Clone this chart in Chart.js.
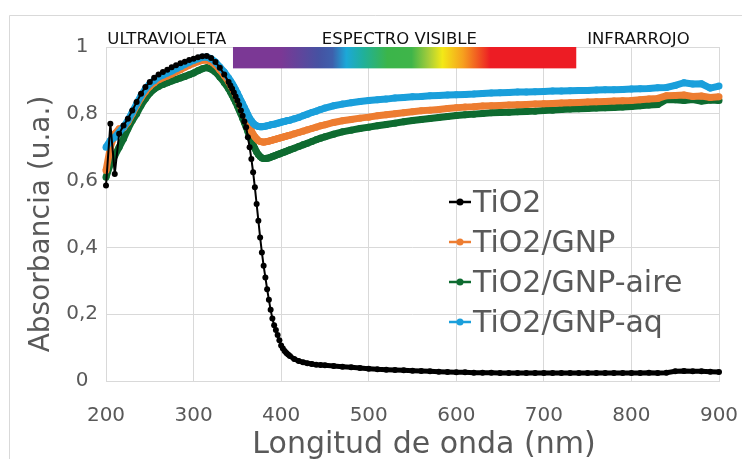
<!DOCTYPE html>
<html>
<head>
<meta charset="utf-8">
<title>Absorbancia</title>
<script src="https://cdn.jsdelivr.net/npm/chart.js@4.4.1/dist/chart.umd.min.js"></script>
<style>
  html, body { margin: 0; padding: 0; background: #fff; }
  #wrap { position: relative; width: 742px; height: 459px; }
</style>
</head>
<body>
<div id="wrap"><canvas id="absChart" width="742" height="459"></canvas></div>
<script>
// wavelengths (nm) shared by all series
const wavelengths = [
  200, 205, 210, 215, 220, 225, 230, 235, 240, 245, 250, 255, 260, 265, 270, 275, 280, 285, 290, 295,
  300, 305, 310, 315, 320, 325, 330, 335,
  340, 342, 344, 346, 348, 350, 352, 354, 356, 358, 360, 362, 364, 366, 368, 370, 372, 374, 376, 378,
  380, 382, 384, 386, 388, 390, 392, 394, 396, 398, 400, 402, 404, 406, 408, 410,
  415, 420, 425, 430, 435, 440, 445, 450,
  460, 470, 480, 490, 500, 510, 520, 530, 540, 550, 560, 570, 580, 590, 600, 610, 620, 630, 640, 650,
  660, 670, 680, 690, 700, 710, 720, 730, 740, 750, 760, 770, 780, 790, 800, 810, 820, 830, 840, 850,
  860, 870, 880, 890, 900
];

const tio2 = [
  0.585, 0.77, 0.62, 0.74, 0.765, 0.785, 0.81, 0.835, 0.86, 0.88, 0.895, 0.908, 0.918, 0.925, 0.932, 0.939, 0.945, 0.951, 0.956, 0.961,
  0.965, 0.969, 0.972, 0.973, 0.967, 0.955, 0.938, 0.918,
  0.895, 0.885, 0.875, 0.864, 0.852, 0.84, 0.826, 0.81, 0.794, 0.777, 0.76, 0.73, 0.70, 0.665, 0.625, 0.58, 0.53, 0.48, 0.43, 0.385,
  0.345, 0.31, 0.275, 0.243, 0.213, 0.187, 0.167, 0.153, 0.138, 0.122, 0.106, 0.097, 0.09, 0.084, 0.079, 0.075,
  0.066, 0.06, 0.056, 0.053, 0.051, 0.049, 0.048, 0.047,
  0.045, 0.043, 0.041, 0.039, 0.037, 0.035, 0.034, 0.033, 0.032, 0.031, 0.030, 0.029, 0.028, 0.027, 0.026, 0.026, 0.025, 0.025, 0.025, 0.024,
  0.024, 0.024, 0.024, 0.024, 0.024, 0.024, 0.024, 0.024, 0.024, 0.024, 0.024, 0.024, 0.024, 0.024, 0.024, 0.024, 0.025, 0.024, 0.025, 0.029,
  0.030, 0.029, 0.029, 0.028, 0.027
];

const tio2Gnp = [
  0.63, 0.70, 0.74, 0.755, 0.758, 0.775, 0.80, 0.825, 0.848, 0.867, 0.882, 0.893, 0.902, 0.908, 0.913, 0.919, 0.926, 0.932, 0.939, 0.945,
  0.951, 0.956, 0.96, 0.961, 0.956, 0.946, 0.931, 0.915,
  0.896, 0.887, 0.878, 0.868, 0.857, 0.846, 0.834, 0.822, 0.810, 0.797, 0.785, 0.772, 0.760, 0.749, 0.739, 0.731, 0.725, 0.720, 0.717, 0.716,
  0.715, 0.716, 0.717, 0.718, 0.720, 0.721, 0.723, 0.724, 0.726, 0.727, 0.729, 0.730, 0.732, 0.733, 0.735, 0.736,
  0.740, 0.744, 0.748, 0.752, 0.756, 0.760, 0.764, 0.767,
  0.774, 0.779, 0.783, 0.787, 0.790, 0.794, 0.797, 0.800, 0.803, 0.806, 0.809, 0.811, 0.813, 0.816, 0.818, 0.820, 0.821, 0.823, 0.824, 0.825,
  0.826, 0.827, 0.828, 0.829, 0.830, 0.831, 0.832, 0.833, 0.834, 0.835, 0.836, 0.837, 0.838, 0.839, 0.840, 0.842, 0.844, 0.846, 0.854, 0.855,
  0.856, 0.852, 0.853, 0.849, 0.851
];

const tio2GnpAire = [
  0.61, 0.65, 0.675, 0.70, 0.725, 0.755, 0.78, 0.80, 0.825, 0.845, 0.862, 0.874, 0.882, 0.888, 0.893, 0.898, 0.903, 0.907, 0.912, 0.917,
  0.922, 0.929, 0.935, 0.938, 0.934, 0.925, 0.91, 0.894,
  0.875, 0.866, 0.856, 0.846, 0.835, 0.824, 0.812, 0.800, 0.787, 0.774, 0.761, 0.747, 0.733, 0.720, 0.707, 0.696, 0.686, 0.678, 0.672, 0.668,
  0.666, 0.666, 0.667, 0.668, 0.670, 0.672, 0.674, 0.676, 0.678, 0.680, 0.682, 0.684, 0.686, 0.688, 0.690, 0.692,
  0.697, 0.702, 0.707, 0.712, 0.717, 0.722, 0.727, 0.731,
  0.739, 0.746, 0.751, 0.756, 0.760, 0.764, 0.768, 0.772, 0.776, 0.780, 0.783, 0.786, 0.789, 0.792, 0.795, 0.797, 0.799, 0.801, 0.803, 0.804,
  0.805, 0.806, 0.807, 0.808, 0.810, 0.811, 0.813, 0.814, 0.815, 0.816, 0.817, 0.818, 0.819, 0.820, 0.822, 0.824, 0.826, 0.828, 0.843, 0.842,
  0.840, 0.843, 0.838, 0.841, 0.840
];

const tio2GnpAq = [
  0.70, 0.72, 0.73, 0.745, 0.76, 0.78, 0.805, 0.83, 0.855, 0.875, 0.89, 0.90, 0.91, 0.916, 0.922, 0.928, 0.935, 0.941, 0.948, 0.954,
  0.96, 0.965, 0.969, 0.97, 0.965, 0.955, 0.94, 0.925,
  0.907, 0.899, 0.891, 0.882, 0.872, 0.862, 0.851, 0.840, 0.830, 0.819, 0.808, 0.797, 0.787, 0.779, 0.772, 0.767, 0.764, 0.762, 0.761, 0.761,
  0.762, 0.763, 0.764, 0.765, 0.767, 0.768, 0.769, 0.770, 0.772, 0.773, 0.775, 0.776, 0.777, 0.779, 0.780, 0.781,
  0.785, 0.789, 0.794, 0.799, 0.804, 0.808, 0.813, 0.817,
  0.824, 0.829, 0.833, 0.837, 0.840, 0.842, 0.844, 0.847, 0.849, 0.851, 0.852, 0.854, 0.855, 0.856, 0.857, 0.858, 0.859, 0.861, 0.862, 0.863,
  0.864, 0.865, 0.865, 0.866, 0.867, 0.868, 0.868, 0.869, 0.870, 0.870, 0.871, 0.872, 0.872, 0.873, 0.874, 0.875, 0.876, 0.878, 0.879, 0.885,
  0.893, 0.889, 0.890, 0.877, 0.883
];

const seriesNames = ['TiO2', 'TiO2/GNP', 'TiO2/GNP-aire', 'TiO2/GNP-aq'];
const seriesColors = ['#000000', '#ED7D31', '#0E6B30', '#1A9FDB'];

// band of the visible spectrum, in data units
const spectrumFrom = 345;
const spectrumTo = 737;
const spectrumBottom = 0.936;
const regionLabels = ['ULTRAVIOLETA', 'ESPECTRO VISIBLE', 'INFRARROJO'];

const textGray = '#595959';
const gridGray = '#d9d9d9';

function points(values) {
  return wavelengths.map((w, i) => ({ x: w, y: values[i] }));
}

const decor = {
  id: 'decor',
  beforeDraw(chart) {
    const ctx = chart.ctx;
    ctx.save();
    ctx.fillStyle = '#fff';
    ctx.fillRect(0, 0, chart.width, chart.height);
    ctx.strokeStyle = gridGray;
    ctx.lineWidth = 1;
    ctx.beginPath();
    ctx.moveTo(9.5, chart.height);
    ctx.lineTo(9.5, 15.5);
    ctx.lineTo(chart.width, 15.5);
    ctx.stroke();
    ctx.restore();
  },
  beforeDatasetsDraw(chart) {
    const ctx = chart.ctx;
    const x = chart.scales.x, y = chart.scales.y;
    const x0 = x.getPixelForValue(spectrumFrom), x1 = x.getPixelForValue(spectrumTo);
    const y0 = y.getPixelForValue(1), y1 = y.getPixelForValue(spectrumBottom);
    const g = ctx.createLinearGradient(x0, 0, x1, 0);
    g.addColorStop(0.00, '#7B3895');
    g.addColorStop(0.14, '#7B3895');
    g.addColorStop(0.25, '#4652A2');
    g.addColorStop(0.29, '#3E60AC');
    g.addColorStop(0.33, '#1CA8D8');
    g.addColorStop(0.38, '#20B09A');
    g.addColorStop(0.45, '#3BB54A');
    g.addColorStop(0.52, '#3FB54A');
    g.addColorStop(0.57, '#A5CD3A');
    g.addColorStop(0.61, '#F3E917');
    g.addColorStop(0.67, '#F6A01E');
    g.addColorStop(0.75, '#ED1C24');
    g.addColorStop(1.00, '#ED1C24');
    ctx.save();
    ctx.fillStyle = g;
    ctx.fillRect(x0, y0, x1 - x0, y1 - y0);
    ctx.restore();
  },
  afterDraw(chart) {
    const ctx = chart.ctx;
    const area = chart.chartArea;
    const x = chart.scales.x;
    ctx.save();

    // region labels above the plot
    ctx.fillStyle = '#111';
    ctx.font = '16.5px "DejaVu Sans"';
    ctx.textBaseline = 'alphabetic';
    ctx.textAlign = 'left';
    ctx.fillText(regionLabels[0], x.getPixelForValue(201.5), area.top - 3);
    ctx.textAlign = 'center';
    ctx.fillText(regionLabels[1], x.getPixelForValue(535), area.top - 3);
    ctx.fillText(regionLabels[2], x.getPixelForValue(808), area.top - 3);

    // axis titles
    ctx.fillStyle = textGray;
    ctx.font = '30px "DejaVu Sans"';
    ctx.textAlign = 'center';
    ctx.fillText('Longitud de onda (nm)', 424, 453);
    ctx.font = '28px "DejaVu Sans"';
    ctx.save();
    ctx.translate(49, 224);
    ctx.rotate(-Math.PI / 2);
    ctx.fillText('Absorbancia (u.a.)', 0, 0);
    ctx.restore();

    // legend inside the plot
    ctx.font = '30px "DejaVu Sans"';
    ctx.textAlign = 'left';
    chart.data.datasets.forEach((ds, i) => {
      const cy = 201 + i * 40;
      ctx.strokeStyle = ds.borderColor;
      ctx.lineWidth = 2.5;
      ctx.beginPath();
      ctx.moveTo(449, cy + 1);
      ctx.lineTo(471, cy + 1);
      ctx.stroke();
      ctx.fillStyle = ds.borderColor;
      ctx.beginPath();
      ctx.arc(460, cy + 1, 3.5, 0, Math.PI * 2);
      ctx.fill();
      ctx.fillStyle = textGray;
      ctx.fillText(ds.label, 473, cy + 11);
    });
    ctx.restore();
  }
};

const ctx = document.getElementById('absChart').getContext('2d');

new Chart(ctx, {
  type: 'line',
  data: {
    datasets: [
      {
        label: seriesNames[0],
        data: points(tio2),
        borderColor: seriesColors[0],
        backgroundColor: seriesColors[0],
        borderWidth: 2,
        pointRadius: 3,
        pointBorderWidth: 0,
        segment: { borderWidth: c => (c.p0.parsed.x >= 404 ? 5 : 2) },
        order: 0
      },
      {
        label: seriesNames[1],
        data: points(tio2Gnp),
        borderColor: seriesColors[1],
        backgroundColor: seriesColors[1],
        borderWidth: 7,
        pointRadius: 3.5,
        pointBorderWidth: 0,
        order: 2
      },
      {
        label: seriesNames[2],
        data: points(tio2GnpAire),
        borderColor: seriesColors[2],
        backgroundColor: seriesColors[2],
        borderWidth: 7,
        pointRadius: 3.5,
        pointBorderWidth: 0,
        order: 3
      },
      {
        label: seriesNames[3],
        data: points(tio2GnpAq),
        borderColor: seriesColors[3],
        backgroundColor: seriesColors[3],
        borderWidth: 7,
        pointRadius: 3.5,
        pointBorderWidth: 0,
        order: 1
      }
    ]
  },
  options: {
    responsive: false,
    animation: false,
    events: [],
    clip: 5,
    layout: { padding: { top: 47, right: 23, left: 0, bottom: 0 } },
    elements: { line: { tension: 0 } },
    plugins: {
      legend: { display: false },
      tooltip: { enabled: false }
    },
    scales: {
      x: {
        type: 'linear',
        min: 200,
        max: 900,
        afterFit: s => { s.height = 78; s.paddingLeft = 0; s.paddingRight = 0; },
        ticks: {
          stepSize: 100,
          padding: 23,
          maxRotation: 0,
          color: textGray,
          font: { family: 'DejaVu Sans', size: 20 }
        },
        grid: { color: gridGray, drawTicks: false },
        border: { color: gridGray }
      },
      y: {
        min: 0,
        max: 1,
        afterFit: s => { s.width = 106; s.paddingTop = 0; s.paddingBottom = 0; },
        ticks: {
          stepSize: 0.2,
          padding: 8,
          crossAlign: 'center',
          color: textGray,
          font: { family: 'DejaVu Sans', size: 20 },
          callback: v => Number(v.toFixed(1)).toString().replace('.', ',')
        },
        grid: { color: gridGray, drawTicks: false },
        border: { display: false }
      }
    }
  },
  plugins: [decor]
});
</script>
</body>
</html>
